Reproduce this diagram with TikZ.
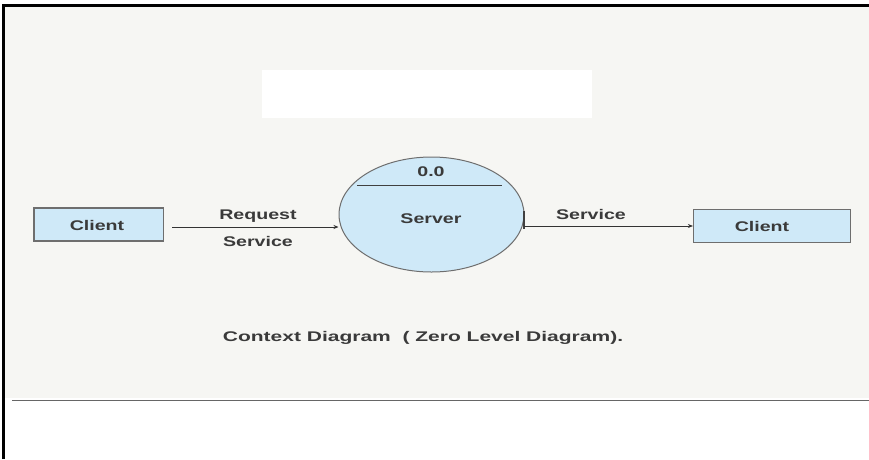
\documentclass[tikz,border=0pt]{standalone}
\usepackage{fontspec}
\usepackage{graphicx}
\setmainfont{Liberation Sans}
\usetikzlibrary{arrows.meta,shapes.geometric}
\definecolor{bgc}{HTML}{F6F6F3}
\definecolor{boxfill}{HTML}{CFE9F8}
\definecolor{edge}{HTML}{6E6E6E}
\definecolor{txt}{HTML}{3A3A3A}
\newcommand{\wtxt}[1]{\scalebox{1.4}[1]{#1}}
\tikzset{
  entity/.style={draw=edge,line width=1.2pt,fill=boxfill,minimum height=33pt},
  lbl/.style={text=txt,font=\fontsize{14}{16}\selectfont\bfseries,inner sep=0pt},
  flow/.style={draw=black!80,line width=0.7pt,-{Stealth[length=5pt,width=4pt]}}
}
\begin{document}
\begin{tikzpicture}[x=1pt,y=-1pt]
\useasboundingbox (0,0) rectangle (869,459);
\fill[white] (0,0) rectangle (869,459);
\fill[bgc] (5,7) rectangle (869,398);
\fill[white] (262,70) rectangle (592,118);
\draw[black,line width=3pt] (3.5,459) -- (3.5,5) -- (869,5);
\draw[black!60,line width=1.8pt] (12,400.5) -- (869,400.5);
% entities
\node[entity,minimum width=129pt] (c1) at (99,224.5) {};
\draw[edge,line width=2.4pt] (c1.north west) -- (c1.south west);
\node[lbl] (c1t) at (97,225) {\wtxt{Client}};
\node[entity,minimum width=157pt] (c2) at (772,226) {};
\node[lbl] (c2t) at (762,226) {\wtxt{Client}};
% process
\node[ellipse,draw=edge,line width=1pt,fill=boxfill,minimum width=185pt,minimum height=115pt,inner sep=0pt] (srv) at (431.5,214.5) {};
\draw[black!75,line width=0.8pt] (357,185) -- (502,185);
\node[lbl] (num) at (431,172) {\wtxt{0.0}};
\node[lbl] (name) at (431,219) {\wtxt{Server}};
\draw[black!75,line width=1.6pt] (524,211) -- (524,229);
% flows
\draw[flow] (c1.east |- 0,227) ++(8,0) coordinate (a1) -- (srv.west |- 0,227);
\node[lbl] (r1) at (258,216) {\wtxt{Request}};
\node[lbl] (r2) at (258,241) {\wtxt{Service}};
\draw[flow] (524,226) coordinate (a2) -- (c2.west |- 0,226);
\node[lbl] (s1) at (591,214) {\wtxt{Service}};
% caption
\node[lbl] (cap) at (423,338) {\scalebox{1.5}[1]{Context Diagram \ ( Zero Level Diagram).}};
\end{tikzpicture}
\end{document}
